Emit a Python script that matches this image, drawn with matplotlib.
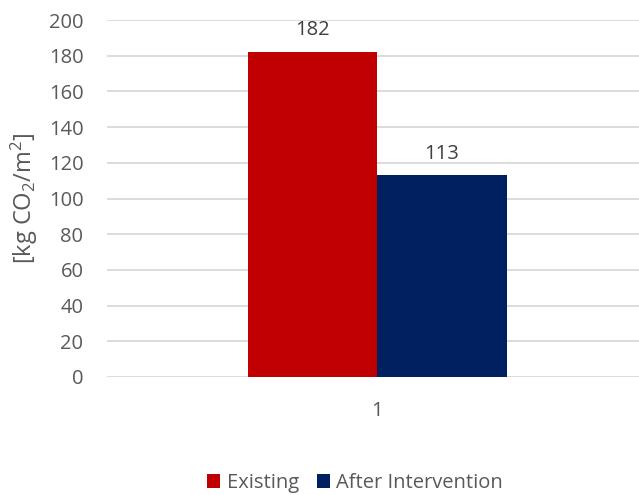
import matplotlib
matplotlib.use("Agg")
import matplotlib.pyplot as plt

categories = ["1"]
series_names = ["Existing", "After Intervention"]
values = [182, 113]
colors = ["#C00000", "#002060"]
yticks = [0, 20, 40, 60, 80, 100, 120, 140, 160, 180, 200]

TEXT = "#595959"
FS = 14.5
plt.rcParams["font.family"] = ["Open Sans", "DejaVu Sans"]
plt.rcParams["mathtext.default"] = "regular"

fig = plt.figure(figsize=(6.39, 4.95), dpi=100)
ax = fig.add_axes([107 / 639, 1 - 377 / 495, 532 / 639, 357 / 495])

width = 0.243
offsets = [-width / 2, width / 2]
for name, val, col, off in zip(series_names, values, colors, offsets):
    ax.bar(off, val, width=width, color=col, label=name, zorder=3)
    ax.annotate(f"{val}", (off, val), xytext=(0, 12), textcoords="offset points",
                ha="center", va="baseline", fontsize=FS, color="#404040")

ax.set_xlim(-0.508, 0.492)
ax.set_ylim(0, 200)
ax.set_yticks(yticks)
ax.set_xticks([0])
ax.set_xticklabels(categories)
ax.tick_params(axis="both", length=0, labelsize=FS, labelcolor=TEXT)
ax.tick_params(axis="y", pad=17)
ax.tick_params(axis="x", pad=17)
ax.grid(axis="y", color="#d9d9d9", lw=1.3, zorder=0)
for s in ax.spines.values():
    s.set_visible(False)

ax.set_ylabel(r"[kg CO$_2$/m$^2$]", fontsize=17, color=TEXT, labelpad=6)

fig.legend(loc="center", bbox_to_anchor=(355 / 639, 1 - 483 / 495), ncol=2,
           frameon=False, fontsize=FS, labelcolor=TEXT, handlelength=0.65,
           handleheight=0.65, handletextpad=0.3, columnspacing=0.9)

fig.savefig("out.png", dpi=100)
